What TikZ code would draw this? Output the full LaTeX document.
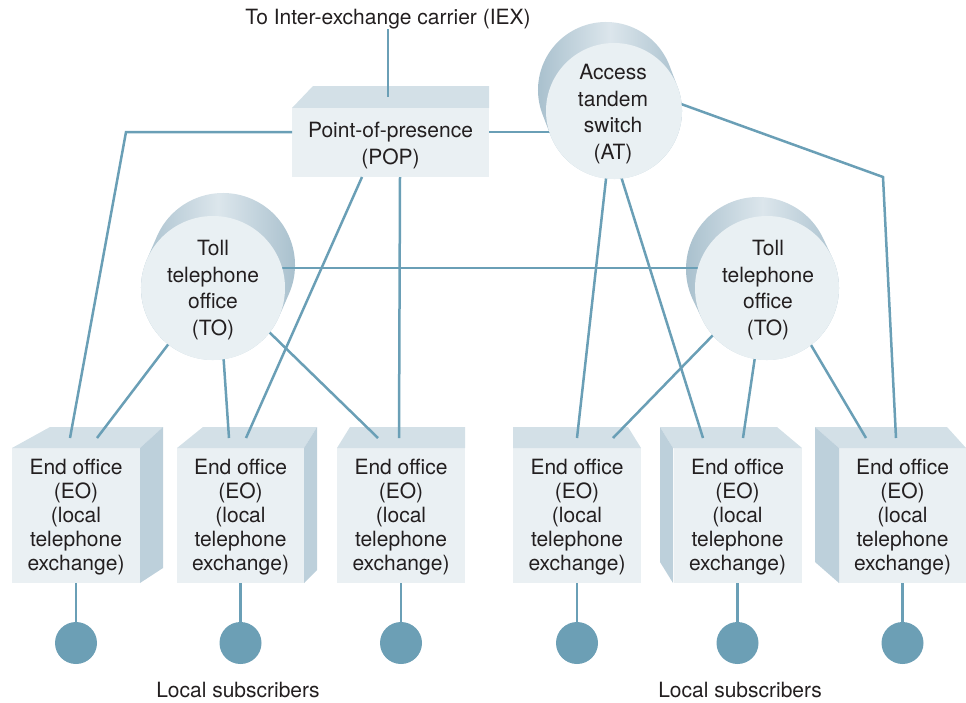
\documentclass[tikz,border=0pt]{standalone}
\usepackage{fontspec}
\setmainfont{TeX Gyre Heros}
\usetikzlibrary{calc}
\definecolor{linec}{HTML}{6A9FB6}
\definecolor{dotc}{HTML}{6C9FB5}
\definecolor{frontc}{HTML}{EAF0F3}
\definecolor{topc}{HTML}{D3E0E7}
\definecolor{sidec}{HTML}{BDD0DB}
\definecolor{discc}{HTML}{E9F0F3}
\definecolor{cyldark}{HTML}{A3BCCA}
\definecolor{cyllight}{HTML}{DCE6EC}
\definecolor{txtc}{HTML}{231F20}
\newcommand\cylhull[5]{%
  \pgfmathsetmacro\cphi{atan2((#4)-(#2),(#3)-(#1))}%
  \shade[left color=cyldark,right color=cyldark,middle color=cyllight]
    ($(#1,#2)+(\cphi+90:#5)$) arc[start angle=\cphi+90,end angle=\cphi+270,radius=#5]
    -- ($(#3,#4)+(\cphi-90:#5)$) arc[start angle=\cphi-90,end angle=\cphi+90,radius=#5] -- cycle;
}
\begin{document}
\begin{tikzpicture}[x=1pt,y=-1pt,
  conn/.style={draw=linec,line width=2.5pt,line join=miter},
  lbl/.style={font=\fontsize{21}{26.5}\selectfont,align=center,text=txtc,inner sep=0pt},
  eolbl/.style={font=\fontsize{21}{24}\selectfont,align=center,text=txtc,inner sep=0pt},
  eobox/.style={rectangle,fill=frontc,minimum width=128pt,minimum height=135pt,inner sep=0pt},
  popbox/.style={rectangle,fill=frontc,minimum width=197pt,minimum height=69pt,inner sep=0pt},
  disc/.style={circle,fill=discc,inner sep=0pt},
  topface/.style={fill=topc},
  sideface/.style={fill=sidec},
  sub/.style={circle,fill=dotc,minimum size=42pt,inner sep=0pt}
]
\useasboundingbox (0,0) rectangle (966,702);

% ---------- labels ----------
\node[lbl] (iex) at (388,19) {To Inter-exchange carrier (IEX)};
\node[lbl] (ls1) at (238,690) {Local subscribers};
\node[lbl] (ls2) at (740,690) {Local subscribers};

% ---------- POP box ----------
\fill[topface] (292,108) -- (313,86) -- (489,86) -- (489,108) -- cycle;
\node[popbox] (pop) at (390.5,142.5) {};
\node[lbl] (popt) at (390.5,145.5) {Point-of-presence\\(POP)};

% ---------- end office boxes ----------
\foreach \i/\x in {1/76,2/240.5,3/401,4/577,5/737.5,6/902.5}{
  \node[eobox] (eo\i) at (\x,515.5) {};
  \node[eolbl] (eot\i) at (\x,517.5) {End office\\(EO)\\(local\\telephone\\exchange)};
}
% tops and sides
\fill[topface]  (12,448) -- (50,427) -- (163,427) -- (140,448) -- cycle;
\fill[sideface] (140,448) -- (163,427) -- (163,568) -- (140,583) -- cycle;
\fill[topface]  (177,448) -- (203,427) -- (317,427) -- (304,448) -- cycle;
\fill[sideface] (304,448) -- (317,427) -- (317,570) -- (304,583) -- cycle;
\fill[topface]  (337,448) -- (350,427) -- (465,427) -- (465,448) -- cycle;
\fill[topface]  (513,448) -- (513,427) -- (628,427) -- (641,448) -- cycle;
\fill[topface]  (673,448) -- (660,427) -- (777,427) -- (802,448) -- cycle;
\fill[sideface] (673,448) -- (660,427) -- (660,562) -- (673,583) -- cycle;
\fill[topface]  (839,448) -- (815,427) -- (947,427) -- (966,448) -- cycle;
\fill[sideface] (839,448) -- (815,427) -- (815,562) -- (839,583) -- cycle;

% ---------- cylinder bodies ----------
\cylhull{606}{90}{614}{111}{68}
\cylhull{223}{265}{213}{288}{72}
\cylhull{758}{269}{767}{288}{72}

% ---------- connection points ----------
\coordinate (popT) at (388,97);
\coordinate (popL) at (292,132);
\coordinate (popR) at (489,132);
\coordinate (popB1) at (362,177);
\coordinate (popB2) at (400,177);
\coordinate (bendA) at (126,132);
\coordinate (bendB) at (883,177);
\coordinate (atW) at (560,132);
\coordinate (atE) at (670,100);
\coordinate (atS1) at (607,170);
\coordinate (atS2) at (619,170);
\coordinate (toAE) at (270,268);
\coordinate (toBW) at (710,268);
\coordinate (toA1) at (170,342);
\coordinate (toA2) at (223,350);
\coordinate (toA3) at (265,328);
\coordinate (toB1) at (716,332);
\coordinate (toB2) at (756,350);
\coordinate (toB3) at (808,340);
\coordinate (e1a) at (70,438);
\coordinate (e1b) at (97,438);
\coordinate (e2a) at (229,438);
\coordinate (e2b) at (246,438);
\coordinate (e3a) at (378,438);
\coordinate (e3b) at (399,438);
\coordinate (e4a) at (577,438);
\coordinate (e4b) at (613,438);
\coordinate (e5a) at (703,438);
\coordinate (e5b) at (743,438);
\coordinate (e6a) at (866,438);
\coordinate (e6b) at (896,438);

% ---------- connectors ----------
\draw[conn] (iex.south) -- (popT);
\draw[conn] (popL) -- (bendA) -- (e1a);
\draw[conn] (popR) -- (atW);
\draw[conn] (popB1) -- (e2b);
\draw[conn] (popB2) -- (e3b);
\draw[conn] (atE) -- (bendB) -- (e6b);
\draw[conn] (atS1) -- (e4a);
\draw[conn] (atS2) -- (e5a);
\draw[conn] (toAE) -- (toBW);
\draw[conn] (toA1) -- (e1b);
\draw[conn] (toA2) -- (e2a);
\draw[conn] (toA3) -- (e3a);
\draw[conn] (toB1) -- (e4b);
\draw[conn] (toB2) -- (e5b);
\draw[conn] (toB3) -- (e6a);

% ---------- front discs ----------
\node[disc,minimum size=136pt] (at)  at (614,111) {};
\node[disc,minimum size=144pt] (toA) at (213,288) {};
\node[disc,minimum size=144pt] (toB) at (767,288) {};
\node[lbl] (att)  at (613,114) {Access\\tandem\\switch\\(AT)};
\node[lbl] (toAt) at (213,290) {Toll\\telephone\\office\\(TO)};
\node[lbl] (toBt) at (768,290) {Toll\\telephone\\office\\(TO)};

% ---------- subscribers ----------
\foreach \i/\x in {1/76,2/240.5,3/401,4/577,5/737.5,6/902.5}{
  \node[sub] (s\i) at (\x,643) {};
  \draw[conn] (eo\i.south) -- (s\i.north);
}
\end{tikzpicture}
\end{document}
